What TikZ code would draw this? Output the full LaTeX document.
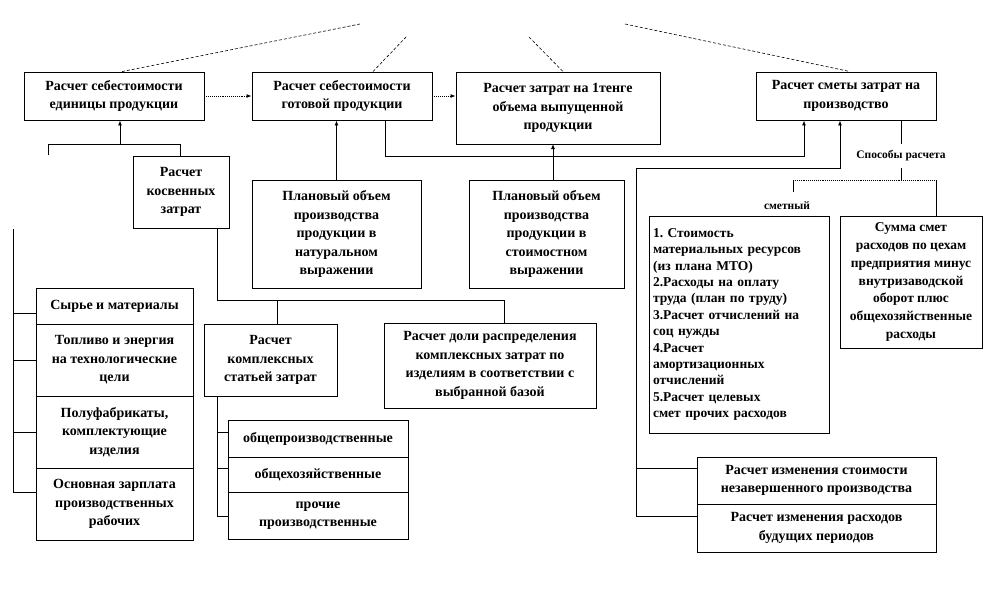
\documentclass[tikz,border=0pt]{standalone}
\usepackage{fontspec}
\setmainfont{Liberation Serif}
\usetikzlibrary{positioning, calc, arrows.meta}
\frenchspacing

\begin{document}
\begin{tikzpicture}[x=1pt, y=-1pt, line width=0.9pt,
		box/.style={draw, align=center, inner sep=0pt, font=\bfseries\fontsize{14}{18.5}\selectfont},
		arr/.style={-{Latex[length=5pt,width=4pt]}},
		top/.style={line width=0.6pt, densely dashed},
		lbl/.style={font=\bfseries\fontsize{11.5}{13}\selectfont, inner sep=0pt}]
		\useasboundingbox (0,0) rectangle (987,600);
		% Top row
		\node[box, minimum width=180, minimum height=48] (b1) at (114,96) {Расчет себестоимости\\единицы продукции};
		\node[box, minimum width=180, minimum height=48] (b2) at (342,96) {Расчет себестоимости\\готовой продукции};
		\node[box, minimum width=204, minimum height=72] (b3) at (558,108) {Расчет затрат на 1тенге\\объема выпущенной\\продукции};
		\node[box, minimum width=180, minimum height=48] (b4) at (846,96) {Расчет сметы затрат на\\производство};
		% Lines above the top row
		\coordinate (t1) at (360,24);
		\coordinate (t2) at (407,36);
		\coordinate (t3) at (529,37);
		\coordinate (t4) at (625,24);
		\draw[top] ([xshift=8]b1.north) -- (t1);
		\draw[top] ([xshift=31]b2.north) -- (t2);
		\draw[top] (t3) -- ([xshift=5]b3.north);
		\draw[top] (t4) -- ([xshift=4]b4.north);
		\draw[arr, densely dotted] (b1) -- (b2);
		\draw[arr, densely dotted] (b2.east) -- (b2.east -| b3.west);
		% Left part
		\node[box, minimum width=96, minimum height=72] (kz) at (181,192) {Расчет\\косвенных\\затрат};
		\node[box, minimum width=157, minimum height=36] (l1) at (114.5,306) {Сырье и материалы};
		\node[box, minimum width=157, minimum height=72] (l2) at (114.5,360) {Топливо и энергия\\на технологические\\цели};
		\node[box, minimum width=157, minimum height=72] (l3) at (114.5,432) {Полуфабрикаты,\\комплектующие\\изделия};
		\node[box, minimum width=157, minimum height=72] (l4) at (114.5,504) {Основная зарплата\\производственных\\рабочих};
		\coordinate (j0) at (48,144);
		\coordinate (j1) at (120,144);
		\coordinate (j2) at (180,144);
		\draw[arr] (j1) -- (j1 |- b1.south);
		\draw ($(j0)+(0,11)$) -- (j0) -- (j2) -- (j2 |- kz.north);
		\coordinate (lb0) at (13,229);
		\coordinate (lb1) at (13,313);
		\coordinate (lb2) at (13,360);
		\coordinate (lb3) at (13,432);
		\coordinate (lb4) at (13,492);
		\draw (lb0) -- (lb4) -- (lb4 -| l4.west);
		\foreach \i in {1,2,3}
			\draw (lb\i) -- (lb\i -| l\i.west);
		% Planned volumes
		\node[box, minimum width=169, minimum height=108] (p1) at (336.5,234) {Плановый объем\\производства\\продукции в\\натуральном\\выражении};
		\node[box, minimum width=155, minimum height=108] (p2) at (546.5,234) {Плановый объем\\производства\\продукции в\\стоимостном\\выражении};
		\draw[arr] (p1.north) -- (p1.north |- b2.south);
		\coordinate (a3) at (553,144);
		\draw[arr] (a3 |- p2.north) -- (a3);
		% Complex costs
		\node[box, minimum width=133, minimum height=72] (k) at (270.5,360) {Расчет\\комплексных\\статьей затрат};
		\node[box, minimum width=212, minimum height=85] (d) at (490,365.5) {Расчет доли распределения\\комплексных  затрат по\\изделиям в соответствии с\\выбранной базой};
		\node[box, minimum width=180, minimum height=37] (s1) at (318,438.5) {общепроизводственные};
		\node[box, minimum width=180, minimum height=35] (s2) at (318,474.5) {общехозяйственные};
		\node[box, minimum width=180, minimum height=47] (s3) at (318,515.5) {прочие\\производственные};
		\coordinate (kb) at (217,300);
		\coordinate (kk) at (277,300);
		\coordinate (kd) at (504,300);
		\draw (kz.south -| kb) -- (kb) -- (kd) -- (kd |- d.north);
		\draw (kk) -- (kk |- k.north);
		\coordinate (sb1) at (217,432);
		\coordinate (sb2) at (217,468);
		\coordinate (sb3) at (217,516);
		\draw (sb3 |- k.south) -- (sb3) -- (sb3 -| s3.west);
		\foreach \i in {1,2}
			\draw (sb\i) -- (sb\i -| s\i.west);
		% Right part
		\coordinate (c1) at (385,156);
		\coordinate (c2) at (804,156);
		\draw[arr] (c1 |- b2.south) -- (c1) -- (c2) -- (c2 |- b4.south);
		\node[box, minimum width=239, minimum height=47] (r1) at (816.5,480.5) {Расчет изменения стоимости\\незавершенного производства};
		\node[box, minimum width=239, minimum height=48] (r2) at (816.5,528) {Расчет изменения расходов\\будущих  периодов};
		\coordinate (r0) at (840,168);
		\coordinate (rb0) at (636,168);
		\coordinate (rb1) at (636,468);
		\coordinate (rb2) at (636,516);
		\draw[arr] (rb2 -| r2.west) -- (rb2) -- (rb0) -- (r0) -- (r0 |- b4.south);
		\draw (rb1) -- (rb1 -| r1.west);
		% Methods of calculation
		\node[lbl, minimum height=24] (sp) at (901,156) {Способы расчета};
		\draw (sp.north |- b4.south) -- (sp.north);
		\coordinate (m0) at (901,180);
		\coordinate (m1) at (793,180);
		\coordinate (m2) at (936,180);
		\draw (sp.south) -- (m0);
		\draw[densely dotted] (m1) -- (m2);
		\draw (m1) -- ++(0,12);
		\node[lbl] (sm) at (787,206) {сметный};
		\node[box, minimum width=180, minimum height=217, text width=172, align=left, font=\bfseries\fontsize{13.5}{16.4}\selectfont] (m) at (739,324.5) {1. Стоимость\\материальных ресурсов\\(из плана МТО)\\2.Расходы на оплату\\труда (план по труду)\\3.Расчет отчислений на\\соц нужды\\4.Расчет\\амортизационных\\отчислений\\5.Расчет целевых\\смет прочих расходов};
		\node[box, minimum width=142, minimum height=132, font=\bfseries\fontsize{13.5}{17.8}\selectfont] (n) at (911,282) {Сумма смет\\расходов по цехам\\предприятия  минус\\внутризаводской\\оборот плюс\\общехозяйственные\\расходы};
		\draw (m2) -- (m2 |- n.north);
	\end{tikzpicture}
\end{document}
